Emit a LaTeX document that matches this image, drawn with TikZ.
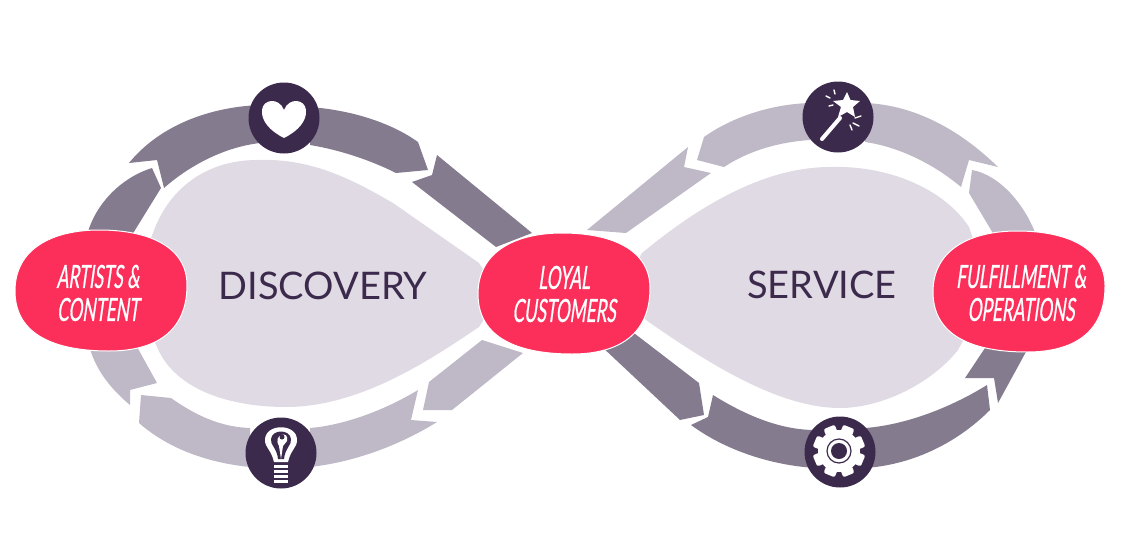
\documentclass[tikz,border=0pt]{standalone}
\usepackage{fontspec}
\usetikzlibrary{positioning}
\setmainfont{Lato}
\newfontfamily\handfont[FakeStretch=0.54,FakeSlant=0.14,FakeBold=0.6]{Lato}
\definecolor{plum}{HTML}{3C2A4D}
\definecolor{bandmid}{HTML}{857B8F}
\definecolor{bandpale}{HTML}{BFB8C7}
\definecolor{petal}{HTML}{E0DAE4}
\definecolor{coral}{HTML}{FB2F5A}
\newcommand{\blobshape}[1]{\filldraw[fill=coral,draw=white,line width=1pt,shift={#1}] (16,291) .. controls (16,247) and (56,230) .. (100,230) .. controls (152,230) and (188,248) .. (188,285) .. controls (188,332) and (156,351) .. (110,351) .. controls (58,351) and (16,336) .. (16,291) -- cycle;}
\tikzset{
  darkband/.style={fill=bandmid},
  paleband/.style={fill=bandpale},
  petalfill/.style={fill=petal},
  badge/.style={circle,fill=plum,inner sep=0pt,minimum size=71pt},
  tag/.style={align=center,text=white,font=\handfont\fontsize{32}{33}\selectfont},
  title/.style={text=plum,font=\fontsize{38}{40}\selectfont},
  glyph/.style={fill=white,draw=none},
  stroke/.style={draw=white,line cap=round}
}
\begin{document}
\begin{tikzpicture}[x=1pt,y=-1pt]
    \useasboundingbox (0,0) rectangle (1137,546);
    \fill[petalfill] (130,290) -- (153,233) .. controls (170,185) and (210,160) .. (257,160) .. controls (310,158) and (350,178) .. (393,203) -- (479,263) -- (500,295) -- (479,327) .. controls (430,360) and (360,407) .. (286,407) .. controls (230,407) and (175,390) .. (157,347) -- cycle;
    \fill[petalfill] (620,290) -- (642,253) .. controls (700,205) and (765,167) .. (830,167) .. controls (890,165) and (945,190) .. (969,227) -- (990,290) -- (958,350) .. controls (930,385) and (880,408) .. (840,408) .. controls (780,408) and (710,365) .. (646,320) -- cycle;
    \fill[darkband] (87,235) .. controls (95,205) and (120,178) .. (152,168) -- (161,188) -- (132,235) -- cycle;
    \fill[darkband] (129,163) .. controls (160,125) and (210,107) .. (260,105) -- (260,143) .. controls (225,147) and (190,165) .. (164,188) -- (157,160) -- cycle;
    \fill[darkband] (310,107) .. controls (350,110) and (390,122) .. (418,142) -- (428,170) -- (396,173) .. controls (370,160) and (340,150) .. (310,145) -- cycle;
    \fill[darkband] (437,155) -- (532,233) -- (496,247) -- (412,182) -- (432,175) -- cycle;
    \fill[paleband] (523,353) -- (452,410) -- (423,410) -- (429,382) -- (482,340) -- cycle;
    \fill[paleband] (437,422) .. controls (400,445) and (355,462) .. (310,467) -- (310,428) .. controls (345,425) and (385,410) .. (418,390) -- (411,420) -- cycle;
    \fill[paleband] (250,428) .. controls (220,427) and (195,415) .. (171,398) -- (141,395) -- (139,423) .. controls (170,450) and (210,463) .. (250,467) -- cycle;
    \fill[paleband] (89,345) .. controls (95,370) and (112,390) .. (130,405) -- (130,390) -- (157,383) -- (136,345) -- cycle;
    \fill[paleband] (587,230) -- (688,147) -- (684,167) -- (711,173) -- (626,233) -- cycle;
    \fill[paleband] (697,160) -- (704,137) .. controls (735,115) and (775,104) .. (810,103) -- (810,140) .. controls (780,142) and (750,150) .. (724,167) -- cycle;
    \fill[paleband] (865,103) .. controls (915,105) and (960,130) .. (998,167) -- (969,160) -- (961,187) .. controls (935,165) and (900,147) .. (865,142) -- cycle;
    \fill[paleband] (972,170) .. controls (1000,175) and (1025,205) .. (1036,235) -- (994,235) -- (969,193) -- cycle;
    \fill[darkband] (1027,350) -- (998,403) -- (994,378) -- (965,378) -- (987,345) -- cycle;
    \fill[darkband] (865,428) .. controls (905,425) and (950,408) .. (987,385) -- (990,410) .. controls (955,445) and (910,465) .. (865,468) -- cycle;
    \fill[darkband] (815,468) .. controls (770,465) and (725,450) .. (691,425) -- (708,417) -- (713,395) .. controls (745,415) and (780,430) .. (815,430) -- cycle;
    \fill[darkband] (600,345) -- (680,420) -- (704,415) -- (699,383) -- (630,330) -- cycle;
    \blobshape{(-1,0)}
    \blobshape{(462,3)}
    \blobshape{(917,1)}
    \node[tag] (artists) at (98,293) {ARTISTS \&\\CONTENT};
    \node[tag] (loyal) at (564,294) {LOYAL\\CUSTOMERS};
    \node[tag] (fulfil) at (1021,293) {FULFILLMENT \&\\OPERATIONS};
    \node[title] (discovery) at (323,286) {DISCOVERY};
    \node[title] (service) at (822,285) {SERVICE};
    \node[badge] (love) at (284,118) {};
    \node[badge] (idea) at (281,453) {};
    \node[badge] (magic) at (838,117) {};
    \node[badge] (gear) at (840,452) {};
    \fill[glyph] (284,138) .. controls (270,131) and (261,121) .. (262,110) .. controls (263,99) and (279,97) .. (284,110) .. controls (289,97) and (305,99) .. (306,110) .. controls (307,121) and (298,131) .. (284,138) -- cycle;
    \fill[glyph] (274,462) .. controls (271,449) and (265,448) .. (265,440) .. controls (265,423) and (297,423) .. (297,440) .. controls (297,448) and (291,449) .. (288,462) -- cycle;
    \fill[plum] (278,459) .. controls (277,448) and (270,445) .. (271,439) .. controls (272,429) and (290,429) .. (291,439) .. controls (292,445) and (285,448) .. (284,459) -- cycle;
    \fill[glyph] (281,459) -- (279,446) .. controls (272,434) and (290,430) .. (287,441) -- (283,446) -- cycle;
    \fill[plum] (282,437) circle (2.5);
    \foreach \y in {465,470,475,480}
      \fill[glyph] (274,\y) rectangle (288,\y+3);
    \draw[stroke,line width=4pt] (822,139) -- (840,118);
    \fill[glyph] (847,92) -- (850.5,100) -- (860,101) -- (853,107) -- (855,117) -- (847,112) -- (838,117) -- (841,107) -- (833,101) -- (843,100) -- cycle;
    \draw[stroke,line width=1.4pt] (834,90) -- (835,94);
    \draw[stroke,line width=1.4pt] (826,96) -- (830,98);
    \draw[stroke,line width=1.4pt] (829,106) -- (833,105);
    \draw[stroke,line width=1.4pt] (855,118) -- (861,116);
    \draw[stroke,line width=1.4pt] (853,123) -- (859,126);
    \draw[stroke,line width=1.4pt] (850,125) -- (852,130);
    \fill[glyph] (839,451) circle (21);
    \foreach \a in {0,45,...,315}
      \fill[glyph,rounded corners=2pt,rotate around={\a+22.5:(839,451)}] (833,425) rectangle (845,436);
    \draw[plum,line width=1.2pt] (839,451) circle (12);
    \fill[plum] (839,451) circle (8);
  \end{tikzpicture}
\end{document}
